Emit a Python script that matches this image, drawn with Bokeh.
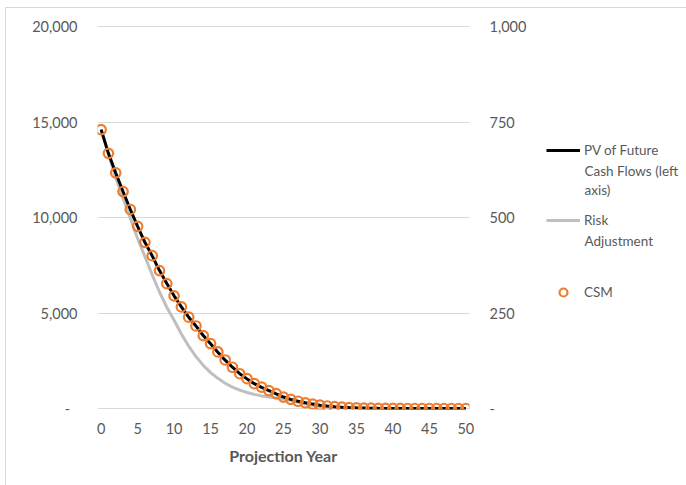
from bokeh.plotting import figure
from bokeh.layouts import row
from bokeh.models import (Range1d, LinearAxis, FixedTicker, NumeralTickFormatter,
                          Legend, LegendItem, Label)
from bokeh.embed import file_html
from bokeh.resources import INLINE

# ---------------- data ----------------
years = list(range(51))

# PV of future cash flows (left axis)
pv_future_cash_flows = [
    14600, 13360, 12330, 11360, 10420, 9540, 8700, 7990, 7220, 6540,
    5900, 5320, 4780, 4320, 3820, 3390, 2950, 2530, 2160, 1820,
    1550, 1300, 1110, 940, 770, 600, 480, 380, 300, 230,
    175, 130, 95, 70, 50, 35, 25, 15, 10, 6,
    4, 2, 1, 0, 0, 0, 0, 0, 0, 0, 0]

# Risk adjustment (right axis)
risk_adjustment = [
    730, 665, 605, 550, 498, 445, 398, 350, 305, 265,
    231, 195, 163, 136, 113, 94, 79, 66, 56, 48,
    42, 37, 33, 30, 27.5, 25, 21, 16.5, 12, 8.5,
    5.5, 3.5, 2, 1, 0.5, 0, 0, 0, 0, 0,
    0, 0, 0, 0, 0, 0, 0, 0, 0, 0, 0]

# CSM (right axis)
csm = [
    730, 668, 617, 568, 521, 477, 435, 400, 361, 327,
    295, 266, 239, 216, 191, 170, 148, 127, 108, 91,
    78, 65, 56, 47, 39, 30, 24, 19, 15, 11.5,
    8.8, 6.5, 4.8, 3.5, 2.5, 1.8, 1.2, 0.8, 0.5, 0.3,
    0.2, 0.1, 0.05, 0, 0, 0, 0, 0, 0, 0, 0]

left_ticks = [0, 5000, 10000, 15000, 20000]
right_ticks = [0, 250, 500, 750, 1000]
x_ticks = [0, 5, 10, 15, 20, 25, 30, 35, 40, 45, 50]

series_names = ["PV of Future", "Cash Flows (left", "axis)", "Risk", "Adjustment", "CSM"]

FONT = "Lato"
TXT = "#595959"
GRID = "#D9D9D9"
C_PV = "black"
C_RA = "#BFBFBF"
C_CSM = "#ED7D31"

# page offsets created by the outer chart border
OX, OY = 6, 8
H = 485 - OY
FRAME_BOTTOM = 409  # page y of the plot frame bottom (shared by both panels)
# 1 px padding above/below the value range so edge gridlines are visible
pad_l = 20000 / 382.0
pad_r = 1000 / 382.0

p = figure(width=540 - OX, height=H, output_backend="svg", toolbar_location=None,
           x_range=Range1d(-0.5, 50.5), y_range=Range1d(-pad_l, 20000 + pad_l),
           min_border_left=97 - OX, min_border_right=71, min_border_top=25 - OY,
           min_border_bottom=485 - FRAME_BOTTOM)
p.extra_y_ranges = {"right": Range1d(-pad_r, 1000 + pad_r)}
p.outline_line_color = None
p.background_fill_color = "white"
p.border_fill_color = "white"

p.xgrid.visible = False
p.ygrid.ticker = FixedTicker(ticks=left_ticks)
p.ygrid.grid_line_color = GRID
p.ygrid.grid_line_width = 1


def style_axis(ax, standoff):
    ax.axis_line_color = None
    ax.major_tick_line_color = None
    ax.minor_tick_line_color = None
    ax.major_tick_in = 0
    ax.major_tick_out = 0
    ax.minor_tick_in = 0
    ax.minor_tick_out = 0
    ax.major_label_text_font = FONT
    ax.major_label_text_font_size = "14.5px"
    ax.major_label_text_color = TXT
    ax.major_label_standoff = standoff


# left axis
yl = p.yaxis[0]
yl.ticker = FixedTicker(ticks=left_ticks)
yl.formatter = NumeralTickFormatter(format="0,0")
yl.major_label_overrides = {0: "-\u00a0\u00a0"}
style_axis(yl, 20)

# right axis
yr = LinearAxis(y_range_name="right", ticker=FixedTicker(ticks=right_ticks),
                formatter=NumeralTickFormatter(format="0,0"))
yr.major_label_overrides = {0: "-"}
style_axis(yr, 20)
p.add_layout(yr, "right")

# bottom axis
xa = p.xaxis[0]
xa.ticker = FixedTicker(ticks=x_ticks)
style_axis(xa, 13)
xa.axis_label = "Projection Year"
xa.axis_label_text_font = FONT
xa.axis_label_text_font_style = "bold"
xa.axis_label_text_font_size = "16px"
xa.axis_label_text_color = TXT
xa.axis_label_standoff = 9

# series
p.line(years, risk_adjustment, y_range_name="right", line_color=C_RA, line_width=3)
p.line(years, pv_future_cash_flows, line_color=C_PV, line_width=3)
p.scatter(years, csm, y_range_name="right", marker="circle", size=9.5,
          fill_color=None, line_color=C_CSM, line_width=2.2)

# ---------------- legend panel ----------------
LX = 540
LW = 686 - LX
q = figure(width=LW, height=H, output_backend="svg", toolbar_location=None,
           x_range=Range1d(0, 1), y_range=Range1d(0, 1),
           x_axis_location=None, y_axis_location=None, min_border=0)
q.outline_line_color = None
q.xgrid.visible = False
q.ygrid.visible = False
q.border_fill_color = "white"

# off-screen proxies that carry the legend styles
k_pv = q.line(x=[5, 6], y=[5, 5], line_color=C_PV, line_width=3)
k_ra = q.line(x=[5, 6], y=[5, 5], line_color=C_RA, line_width=3)
k_csm = q.scatter(x=[5], y=[5], marker="circle", size=9.5, fill_color=None,
                  line_color=C_CSM, line_width=2.2)


def mk_legend(label, r, center_y):
    lg = Legend(items=[LegendItem(label=label, renderers=[r])],
                location=(546 - LX, FRAME_BOTTOM - (center_y + 10)),
                glyph_width=34, glyph_height=20, label_height=20,
                label_standoff=4, padding=0, margin=0, spacing=0,
                border_line_color=None, background_fill_alpha=0,
                label_text_font=FONT, label_text_font_size="13.5px",
                label_text_color=TXT)
    q.add_layout(lg)


mk_legend(series_names[0], k_pv, 150)
mk_legend(series_names[3], k_ra, 220)
mk_legend(series_names[5], k_csm, 292)


def mk_label(text, cy):
    q.add_layout(Label(x=584 - LX, y=FRAME_BOTTOM - cy, x_units="screen",
                       y_units="screen", text=text, text_baseline="middle",
                       text_font=FONT, text_font_size="13.5px", text_color=TXT))


mk_label(series_names[1], 170)
mk_label(series_names[2], 189)
mk_label(series_names[4], 240)

layout = row(p, q, styles={"margin-left": "5px", "margin-top": "7px",
                           "border-left": "1px solid #D9D9D9",
                           "border-top": "1px solid #D9D9D9"})

open("out.html", "w").write(file_html(layout, INLINE))
